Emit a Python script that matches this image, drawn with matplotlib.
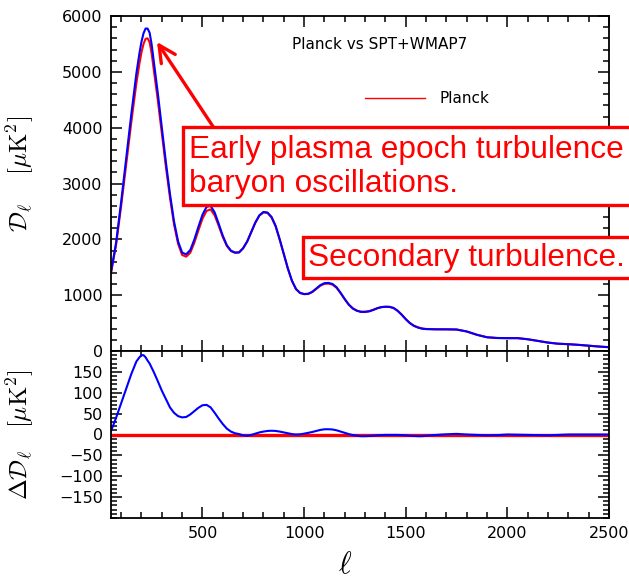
import numpy as np
import matplotlib
matplotlib.use("Agg")
import matplotlib.pyplot as plt
from matplotlib.patches import Rectangle
from matplotlib.ticker import MultipleLocator, FixedLocator

plt.rcParams["mathtext.fontset"] = "cm"

# multipole grid
ell = [50, 75, 100, 125, 150, 175, 190, 200, 210, 220, 230, 240, 250, 260,
       280, 300, 320, 340,
       360, 380, 400, 420, 440, 460, 480, 500, 520, 540, 560, 580, 600, 620,
       640, 660, 680, 700, 720, 740, 760, 780, 800, 820, 840, 860, 880, 900,
       920, 940, 960, 980, 1000, 1020, 1040, 1060, 1080, 1100, 1120, 1140,
       1160, 1180, 1200, 1220, 1240, 1260, 1280, 1300, 1320, 1340, 1360, 1380,
       1400, 1420, 1440, 1460, 1480, 1500, 1520, 1540, 1560, 1580, 1600, 1650,
       1700, 1750, 1800, 1850, 1900, 1950, 2000, 2050, 2100, 2150, 2200, 2250,
       2300, 2350, 2400, 2450, 2500]

# Planck D_l [muK^2]
dl_planck = [1400, 1900, 2600, 3350, 4100, 4800, 5150, 5350, 5500, 5590, 5600,
             5530, 5330, 5050, 4500,
             3900, 3300, 2750, 2270, 1920, 1720, 1690, 1760, 1940, 2160, 2370,
             2510, 2535, 2430, 2240, 2040, 1880, 1790, 1760, 1765, 1842, 1963,
             2131, 2298, 2425, 2483, 2472, 2391, 2232, 1993, 1735, 1477, 1259,
             1110, 1040, 1018, 1021, 1054, 1112, 1169, 1203, 1207, 1188, 1130,
             1033, 926, 829, 762, 723, 704, 704, 714, 738, 767, 787, 793, 791,
             771, 721, 652, 572, 503, 454, 424, 404, 395, 389, 388, 384, 350,
             291, 247, 234, 230, 231, 211, 182, 152, 131, 122, 110, 95, 80, 68]

# SPT+WMAP7 D_l [muK^2]
dl_spt = [1408, 1940, 2675, 3460, 4245, 4975, 5335, 5540, 5690, 5775, 5775,
          5700, 5490, 5200, 4628,
          4005, 3385, 2815, 2322, 1964, 1761, 1732, 1808, 1996, 2224, 2440,
          2581, 2600, 2482, 2278, 2065, 1894, 1797, 1763, 1766, 1840, 1960,
          2130, 2300, 2430, 2490, 2480, 2400, 2240, 2000, 1740, 1480, 1260,
          1110, 1040, 1020, 1025, 1060, 1120, 1180, 1215, 1220, 1200, 1140,
          1040, 930, 830, 760, 720, 700, 700, 710, 735, 765, 785, 792, 790,
          770, 720, 650, 570, 500, 450, 420, 400, 392, 388, 388, 385, 350,
          290, 245, 232, 230, 230, 210, 180, 150, 130, 122, 110, 95, 80, 68]

# difference SPT+WMAP7 - Planck
delta = [8, 40, 75, 110, 145, 175, 185, 190, 190, 185, 177, 170, 160, 150,
         128, 105, 85, 65, 52,
         44, 41, 42, 48, 56, 64, 70, 71, 65, 52, 38, 25, 14, 7, 3, 1, -2, -3,
         -1, 2, 5, 7, 8.5, 9, 8.5, 7, 5, 3, 1, 0, 0.5, 2, 4, 6, 8.5, 11, 12.5,
         12.6, 12, 10, 7, 4, 1, -1.5, -3, -4, -4, -3.5, -3, -2, -1.5, -1, -1,
         -1, -1, -1.5, -2, -3, -3.5, -4, -4, -3, -1, 0.5, 1.5, 0, -1, -2,
         -1.5, 0, -0.5, -1, -1.5, -2, -1, 0, 0, 0, 0, 0]

W, H = 629, 582
fig = plt.figure(figsize=(W / 100, H / 100), dpi=100)

def px_axes(x0, y0, x1, y1):
    return fig.add_axes([x0 / W, 1 - y1 / H, (x1 - x0) / W, (y1 - y0) / H])

ax1 = px_axes(111, 16, 609, 351)
ax2 = px_axes(111, 351, 609, 518)

ax1.plot(ell, dl_planck, color="red", lw=1.5)
ax1.plot(ell, dl_spt, color="blue", lw=1.5)
ax2.axhline(0, color="red", lw=2.4)
ax2.plot(ell, delta, color="blue", lw=1.5)

for ax in (ax1, ax2):
    ax.set_xlim(50, 2500)
    ax.xaxis.set_major_locator(FixedLocator([500, 1000, 1500, 2000, 2500]))
    ax.xaxis.set_minor_locator(MultipleLocator(100))
    ax.tick_params(which="both", direction="in", top=True, right=True,
                   labelsize=11.5, width=1.1)
    ax.tick_params(which="major", length=8, pad=6)
    ax.tick_params(which="minor", length=4)
    for s in ax.spines.values():
        s.set_linewidth(1.3)

ax1.set_ylim(0, 6000)
ax1.yaxis.set_major_locator(MultipleLocator(1000))
ax1.yaxis.set_minor_locator(MultipleLocator(200))
ax1.tick_params(labelbottom=False)
ax1.set_ylabel(r"$\mathcal{D}_\ell\quad\;[\mu\mathrm{K}^2]$", fontsize=18)
ax1.yaxis.set_label_coords(-0.15, 0.53)

ax2.set_ylim(-200, 200)
ax2.yaxis.set_major_locator(FixedLocator([-150, -100, -50, 0, 50, 100, 150]))
ax2.yaxis.set_minor_locator(MultipleLocator(10))
ax2.set_ylabel(r"$\Delta\mathcal{D}_\ell\quad[\mu\mathrm{K}^2]$", fontsize=18)
ax2.yaxis.set_label_coords(-0.15, 0.5)
ax2.set_xlabel(r"$\ell$", fontsize=22)
ax2.xaxis.set_label_coords(0.47, -0.19)

# in-plot title and legend
ax1.text(0.54, 0.916, "Planck vs SPT+WMAP7", transform=ax1.transAxes,
         ha="center", va="center", fontsize=11)
ax1.plot([0.51, 0.63], [0.755, 0.755], color="red", lw=1,
         transform=ax1.transAxes)
ax1.text(0.66, 0.755, "Planck", transform=ax1.transAxes,
         ha="left", va="center", fontsize=11)

# annotation boxes (run past the right edge of the figure)
def box(x0, y0, y1):
    r = Rectangle((x0 / W, 1 - y1 / H), 1.2, (y1 - y0) / H,
                  transform=fig.transFigure, facecolor="white",
                  edgecolor="red", lw=2.4, zorder=10)
    fig.add_artist(r)

box(183, 127, 205)
fig.text(189 / W, 1 - 167 / H, "Early plasma epoch turbulence\nbaryon oscillations.",
         color="red", fontsize=22.8, family="Liberation Sans", ha="left",
         va="center", linespacing=1.2, zorder=11)
box(303, 237, 278)
fig.text(308 / W, 1 - 258 / H, "Secondary turbulence.", color="red",
         fontsize=22.8, family="Liberation Sans", ha="left", va="center",
         zorder=11)

ax1.annotate("", xy=(157, H - 42), xycoords="figure pixels",
             xytext=(214, H - 128), textcoords="figure pixels",
             arrowprops=dict(arrowstyle="->", color="red", lw=2.4,
                             mutation_scale=30, shrinkA=0, shrinkB=0),
             zorder=9)

fig.savefig("out.png", dpi=100)
